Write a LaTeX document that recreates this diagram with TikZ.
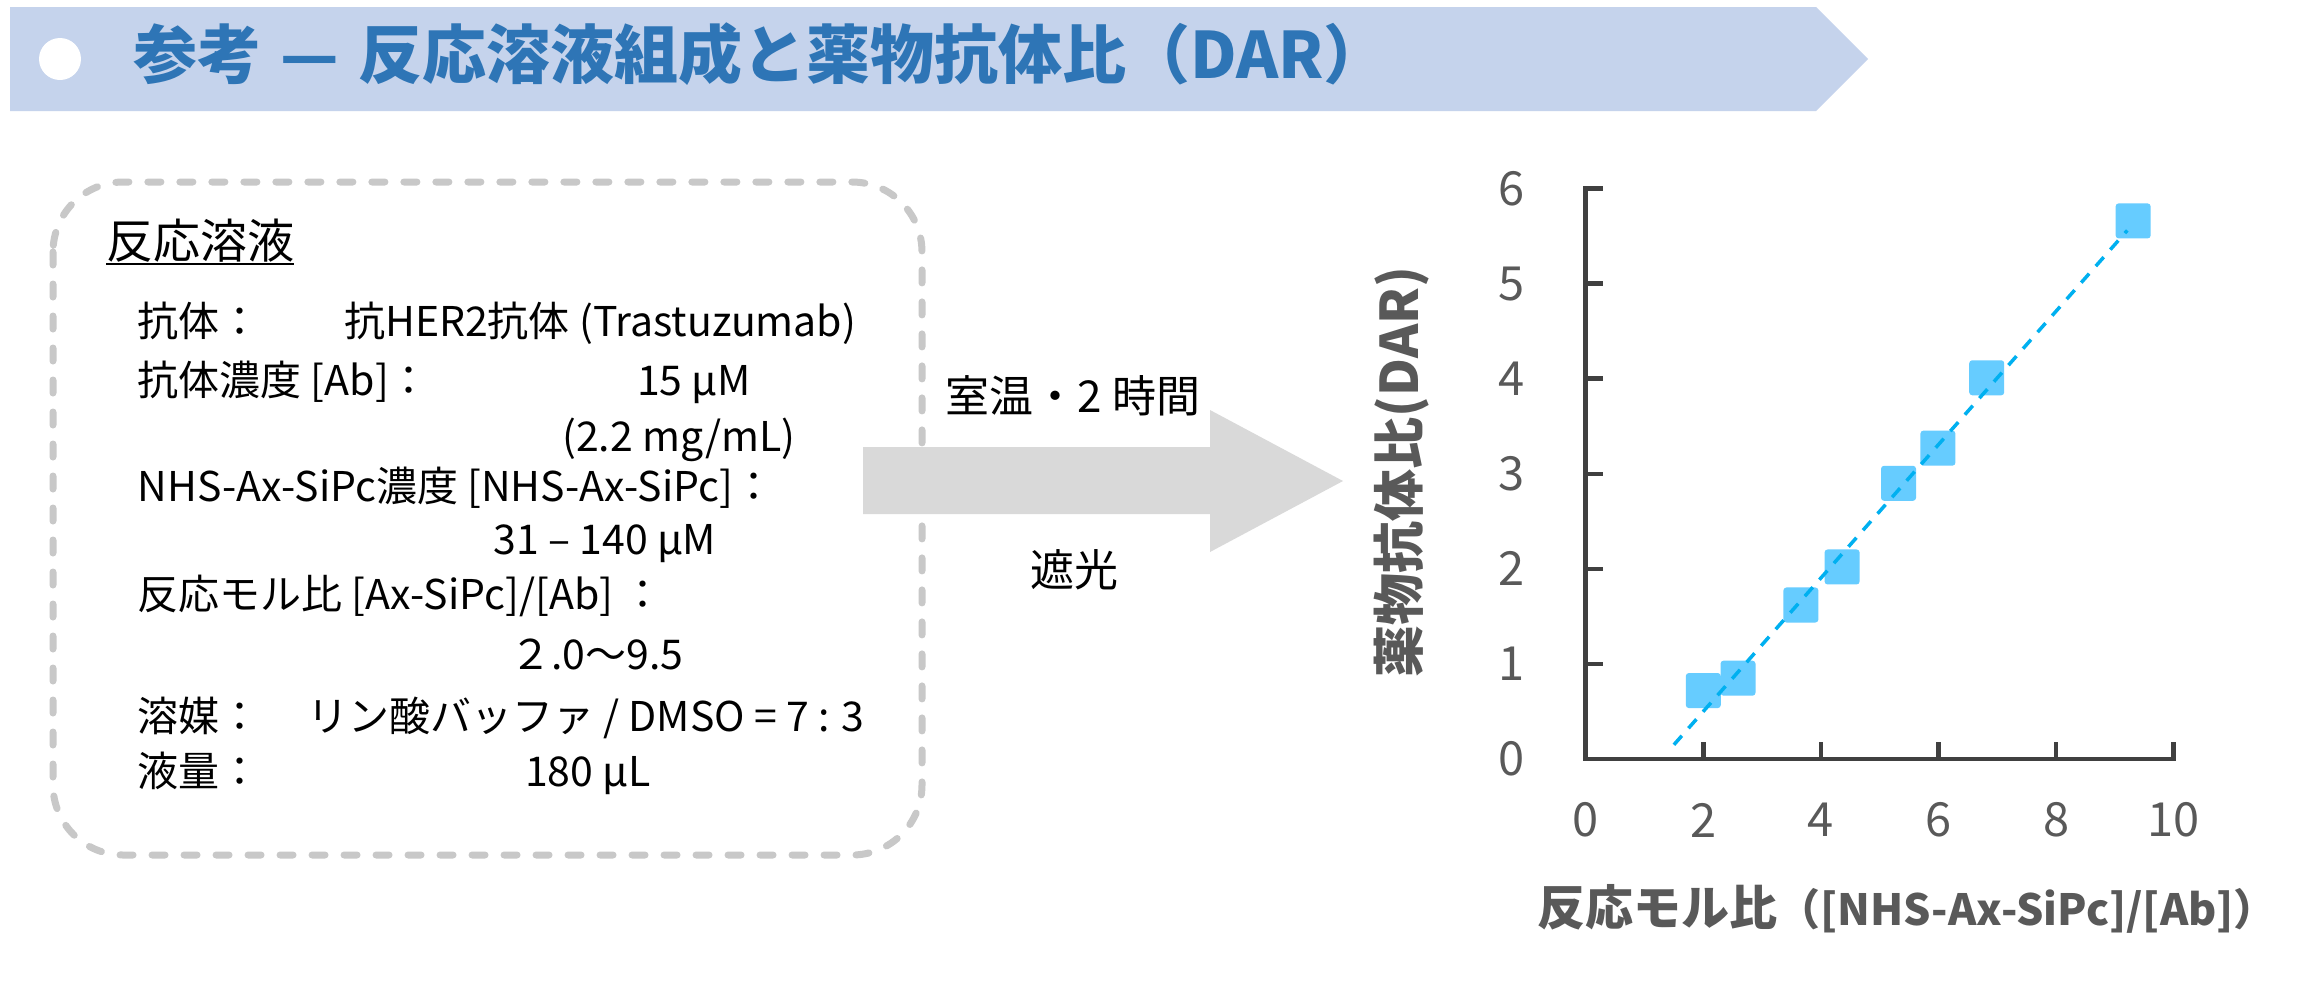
\documentclass[tikz,border=0pt]{standalone}
\usepackage{fontspec}
\setmainfont{Noto Sans CJK JP}
\newcommand\fsz[1]{\fontsize{#1}{#1}\selectfont}
\definecolor{bannerfill}{HTML}{C5D3EC}
\definecolor{titleblue}{HTML}{2E75B6}
\definecolor{boxgray}{HTML}{C8C8C8}
\definecolor{arrowgray}{HTML}{D9D9D9}
\definecolor{axisgray}{HTML}{404040}
\definecolor{labgray}{HTML}{595959}
\definecolor{ptblue}{HTML}{66CCFF}
\definecolor{trendblue}{HTML}{00B0F0}
\begin{document}
\begin{tikzpicture}[x=1pt,y=-1pt,
  txt/.style={anchor=base west, inner sep=0, font=\fsz{41}, text=black},
  headtxt/.style={anchor=base west, inner sep=0, font=\fsz{47}, text=black},
  arrlab/.style={anchor=base, inner sep=0, font=\fsz{44}, text=black},
  boxdash/.style={draw=boxgray, line width=7pt, dash pattern=on 13pt off 19pt, line cap=round, rounded corners=70pt},
  axisline/.style={draw=axisgray, line width=4.5pt},
  ticklab/.style={inner sep=0, font=\fsz{47}, text=labgray},
  axtitle/.style={inner sep=0, font=\fsz{48}\bfseries, text=labgray},
  datapt/.style={rectangle, fill=ptblue, minimum size=35pt, inner sep=0, rounded corners=3pt},
  trend/.style={draw=trendblue, line width=3.5pt, dash pattern=on 12pt off 10pt}
]
\useasboundingbox[fill=white] (0,0) rectangle (2310,997);
% banner
\fill[bannerfill] (10,7) -- (1816,7) -- (1868,59) -- (1816,111) -- (10,111) -- cycle;
\fill[white] (60,59) circle[radius=21];
\node[anchor=base west, inner sep=0, font=\fsz{64}\bfseries, text=titleblue] (title) at (133,78)
  {参考\hspace{0.3em}—\hspace{0.3em}反応溶液組成と薬物抗体比（DAR）};
% dashed box
\draw[boxdash] (53,182) rectangle (922,855);
\node[headtxt] (head) at (106,258) {反応溶液};
\draw[black, line width=2.5pt] ([yshift=-6pt]head.base west) -- ([yshift=-6pt]head.base east);
\node[txt] (l1a) at (137.6,336.6) {抗体：};
\node[txt] (l1b) at (344,336.6) {抗HER2抗体 (Trastuzumab)};
\node[txt] (l2a) at (137.6,395.6) {抗体濃度 [Ab]：};
\node[txt] (l2b) at (637,395.6) {15 μM};
\node[txt] (l3) at (562,451) {(2.2 mg/mL)};
\node[txt] (l4) at (137.6,501.6) {NHS-Ax-SiPc濃度 [NHS-Ax-SiPc]：};
\node[txt] (l5) at (493.5,554.6) {31 – 140 μM};
\node[txt] (l6) at (137.6,609.6) {反応モル比 [Ax-SiPc]/[Ab] ：};
\node[txt] (l7) at (510,669.6) {２.0〜9.5};
\node[txt] (l8a) at (137.6,731.6) {溶媒：};
\node[txt] (l8b) at (307,731.6) {リン酸バッファ / DMSO = 7 : 3};
\node[txt] (l9a) at (137.6,786.6) {液量：};
\node[txt] (l9b) at (525,786.6) {180 μL};
% arrow
\fill[arrowgray] (863,447) -- (1210,447) -- (1210,410) -- (1343,481) -- (1210,552) -- (1210,514) -- (863,514) -- cycle;
\node[arrlab] (cond1) at (1073,412) {室温・2 時間};
\node[arrlab] (cond2) at (1074,586) {遮光};
% chart
\begin{scope}[shift={(1585.7,759)}, x=58.8pt, y=95.07pt]
  \draw[axisline, line join=miter] ([xshift=17pt]0,6) -- (0,6) -- (0,0) -- (10,0) -- ([yshift=17pt]10,0);
  \foreach \k in {1,...,5} \draw[axisline] (0,\k) -- ++(17pt,0);
  \foreach \k in {2,4,6,8} \draw[axisline] (\k,0) -- ++(0,17pt);
  \foreach \k in {0,...,6} \node[ticklab] (yl\k) at ([xshift=-73.7pt]0,\k) {\k};
  \foreach \k in {0,2,...,10} \node[ticklab] (xl\k) at ([yshift=-61pt]\k,0) {\k};
  \node[datapt] (p1) at (2.00,0.72) {};
  \node[datapt] (p2) at (2.59,0.85) {};
  \node[datapt] (p3) at (3.66,1.62) {};
  \node[datapt] (p4) at (4.36,2.02) {};
  \node[datapt] (p5) at (5.32,2.90) {};
  \node[datapt] (p6) at (5.99,3.27) {};
  \node[datapt] (p7) at (6.82,4.01) {};
  \node[datapt] (p8) at (9.31,5.66) {};
  \coordinate (t0) at (1.50,0.15);
  \coordinate (t1) at (9.21,5.56);
  \draw[trend] (t0) -- (t1);
\end{scope}
\node[axtitle, font=\fsz{52}\bfseries, rotate=90] (ytitle) at (1402,472) {薬物抗体比(DAR)};
\node[axtitle, anchor=base west] (xtitle) at (1537,925) {反応モル比{\fsz{43}（[NHS-Ax-SiPc]/[Ab]）}};
\end{tikzpicture}
\end{document}
